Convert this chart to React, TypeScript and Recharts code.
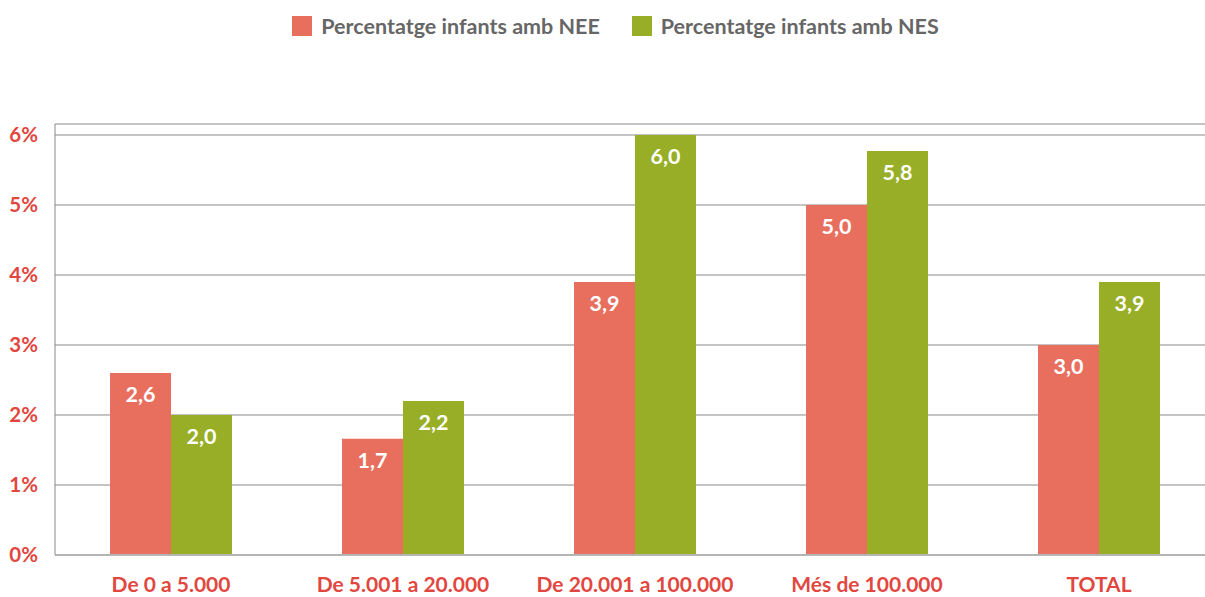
import React from 'react';
import { BarChart, Bar, XAxis, YAxis, CartesianGrid, Legend, LabelList } from 'recharts';

const categories = ['De 0 a 5.000', 'De 5.001 a 20.000', 'De 20.001 a 100.000', 'Més de 100.000', 'TOTAL'];
const neeValues = [2.6, 1.66, 3.9, 5.0, 3.0];
const nesValues = [2.0, 2.2, 6.0, 5.77, 3.9];
const yTicks = [0, 1, 2, 3, 4, 5, 6];
const seriesNames = ['Percentatge infants amb NEE', 'Percentatge infants amb NES'];

const RED = '#E86E5E';
const GREEN = '#97AE26';
const TEXT_RED = '#E2473F';
const FONT = 'Lato, "Open Sans", sans-serif';

const data = categories.map((c, i) => ({ name: c, nee: neeValues[i], nes: nesValues[i] }));

const fmt = (v: any) => Number(v).toFixed(1).replace('.', ',');

const LegendContent = () => (
  <div style={{ display: 'flex', justifyContent: 'center', alignItems: 'center', height: 40, fontFamily: FONT, fontWeight: 700, fontSize: 21.5, color: '#666' }}>
    {seriesNames.map((n, i) => (
      <div key={n} style={{ display: 'flex', alignItems: 'center', marginRight: i === 0 ? 32 : 0 }}>
        <div style={{ width: 20, height: 20, background: i === 0 ? RED : GREEN, marginRight: 9 }} />
        <span>{n}</span>
      </div>
    ))}
  </div>
);

export default function App() {
  return (
    <div style={{ position: 'absolute', left: 0, top: 0, width: 1205, height: 597, overflow: 'hidden', background: '#fff' }}>
      <BarChart width={1215} height={597} data={data} margin={{ top: 84, right: 0, bottom: 0, left: 0 }} barCategoryGap={55} barGap={0}>
        <CartesianGrid vertical={false} stroke="#8a8a8a" strokeWidth={1} />
        <Legend verticalAlign="top" content={<LegendContent />} wrapperStyle={{ top: 6, left: 18, width: 1195, height: 40 }} />
        <XAxis dataKey="name" axisLine={{ stroke: '#b5b5b5', strokeWidth: 2 }} tickLine={false} tickSize={0} tickMargin={22} height={42}
          tick={{ fill: TEXT_RED, fontFamily: FONT, fontWeight: 700, fontSize: 21 }} interval={0} />
        <YAxis domain={[0, 6.157]} ticks={yTicks} allowDataOverflow width={55} axisLine={{ stroke: '#8a8a8a' }} tickLine={false} tickSize={0} tickMargin={17}
          tickFormatter={(v: number) => `${v}%`} tick={{ fill: TEXT_RED, fontFamily: FONT, fontWeight: 700, fontSize: 20.5 }} />
        <Bar dataKey="nee" name={seriesNames[0]} fill={RED} isAnimationActive={false}>
          <LabelList dataKey="nee" position="insideTop" offset={14} formatter={fmt} fill="#fff" style={{ fontFamily: FONT, fontWeight: 700, fontSize: 21.5 }} />
        </Bar>
        <Bar dataKey="nes" name={seriesNames[1]} fill={GREEN} isAnimationActive={false}>
          <LabelList dataKey="nes" position="insideTop" offset={14} formatter={fmt} fill="#fff" style={{ fontFamily: FONT, fontWeight: 700, fontSize: 21.5 }} />
        </Bar>
      </BarChart>
    </div>
  );
}
